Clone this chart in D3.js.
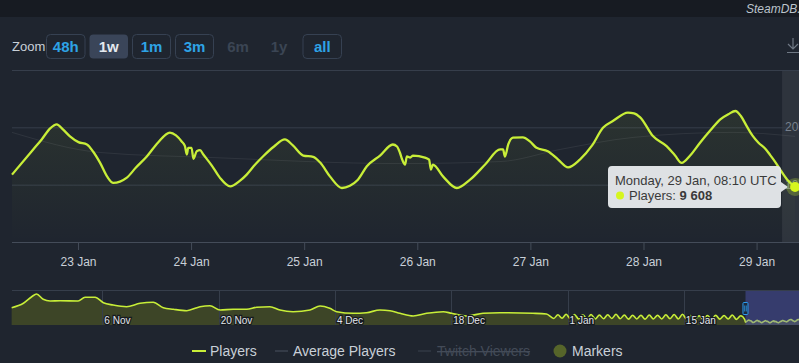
<!DOCTYPE html>
<html>
<head>
<meta charset="utf-8">
<script src="https://cdn.jsdelivr.net/npm/d3@7"></script>
<style>
  html, body { margin: 0; padding: 0; background: #1f252f; }
  svg { display: block; font-family: "Liberation Sans", Arial, sans-serif; }
</style>
</head>
<body>
<div id="chart"></div>
<script>
// Players, last week (hours since 22 Jan 2024 00:00 UTC)
const hours = [10, 14.5, 16.3, 18.1, 19.5, 20.8, 22.3, 24.1, 25.9, 27.2, 28.7, 30.2, 31.5, 32.9, 34.3, 36.3,
  38.6, 41.0, 43.5, 44.8, 46.0, 46.7, 47.1, 47.4, 48.1, 48.5, 49.2, 49.9, 50.6, 52.4, 54.1, 56.3, 58.4, 59.8,
  61.6, 63.3, 65.6, 67.9, 69.6, 71.8, 73.9, 75.4, 77.5, 80.0, 81.7, 83.4, 85.3, 88.1, 90.8, 91.7, 92.3, 92.8,
  93.4, 93.8, 94.5, 95.1, 97.6, 98.5, 98.9, 99.3, 101.5, 104.4, 107.2, 110.4, 113.6, 114.2, 114.6, 115.3,
  116.3, 118.4, 119.9, 121.3, 123.7, 125.9, 128.0, 130.5, 133.1, 135.4, 137.5, 140.7, 142.0, 143.3, 146.0,
  148.9, 150.7, 152.1, 153.9, 156.0, 158.2, 160.3, 162.0, 163.5, 164.7, 165.9, 167.1, 168.4, 169.8, 170.8,
  171.9, 173.0, 174.5, 176.17];
const players = [11750, 16140, 17890, 19820, 20520, 19640, 18420, 17420, 17010, 15790, 13800, 11400, 10300,
  10520, 11170, 12980, 14910, 17360, 19070, 18590, 17540, 16720, 15260, 16430, 16430, 14510, 15840, 16010,
  15260, 13330, 11230, 9700, 10700, 11750, 13510, 14960, 16660, 17890, 16840, 15080, 14860, 13860, 11400,
  9420, 9820, 10870, 13210, 15080, 17010, 16660, 15610, 14380, 13510, 14910, 14730, 15080, 14730, 14380,
  12630, 13510, 11400, 9420, 10870, 13510, 16140, 16140, 14910, 17010, 18190, 18240, 17540, 16430, 15840,
  14380, 13030, 14380, 16840, 19940, 21100, 22570, 22450, 21750, 18470, 16720, 15080, 13800, 15080, 17310,
  19470, 21400, 22280, 22850, 21930, 20220, 18590, 17310, 16310, 15260, 14030, 12630, 10870, 9608];

// Average players
const avgHours = [10, 28.7, 52.6, 92.3, 113.6, 126.3, 141.8, 163.0, 176.17];
const avgPlayers = [19120, 15610, 14730, 13680, 14030, 16140, 18240, 19120, 18420];

// Navigator history before the selected week
const historyDates = ["2023-10-26T02", "2023-10-27T12", "2023-10-28T12", "2023-10-29T02", "2023-10-29T21",
  "2023-10-30T17", "2023-10-31T22", "2023-11-03T02", "2023-11-03T22", "2023-11-05T03", "2023-11-06T03",
  "2023-11-07T07", "2023-11-08T22", "2023-11-10T13", "2023-11-12T03", "2023-11-13T08", "2023-11-14T13",
  "2023-11-16T04", "2023-11-17T18", "2023-11-18T23", "2023-11-20T04", "2023-11-21T18", "2023-11-23T09",
  "2023-11-24T14", "2023-11-26T04", "2023-11-27T09", "2023-11-28T23", "2023-12-01T00", "2023-12-02T05",
  "2023-12-03T09", "2023-12-04T05", "2023-12-06T05", "2023-12-07T19", "2023-12-09T10", "2023-12-10T15",
  "2023-12-11T20", "2023-12-13T10", "2023-12-15T01", "2023-12-17T01", "2023-12-18T01", "2023-12-19T20",
  "2023-12-21T20", "2023-12-23T20", "2023-12-27T20", "2023-12-29T11",
  "2023-12-30T08", "2023-12-30T20", "2023-12-31T08", "2023-12-31T20", "2024-01-01T08", "2024-01-01T20",
  "2024-01-02T08", "2024-01-02T20", "2024-01-03T08", "2024-01-03T20", "2024-01-04T08", "2024-01-04T20",
  "2024-01-05T08", "2024-01-05T20", "2024-01-06T08", "2024-01-06T20", "2024-01-07T08", "2024-01-07T20",
  "2024-01-08T08", "2024-01-08T20", "2024-01-09T08", "2024-01-09T20", "2024-01-10T08", "2024-01-10T20",
  "2024-01-11T08", "2024-01-11T20", "2024-01-12T08", "2024-01-12T20", "2024-01-13T08", "2024-01-13T20",
  "2024-01-14T08", "2024-01-14T20", "2024-01-15T08", "2024-01-15T20", "2024-01-16T08", "2024-01-16T20",
  "2024-01-17T08", "2024-01-17T20", "2024-01-18T08", "2024-01-18T20", "2024-01-19T08", "2024-01-19T20",
  "2024-01-20T08", "2024-01-20T20", "2024-01-21T08", "2024-01-21T20", "2024-01-22T08"];
const historyPlayers = [71200, 89400, 116500, 127700, 105800, 98800, 100100, 98800, 114100, 114100, 91800,
  82400, 75400, 89400, 93500, 71200, 64700, 58900, 75400, 79500, 61800, 64700, 64700, 72900, 75400, 61800,
  54800, 61800, 78200, 68800, 54800, 48200, 50700, 61800, 58900, 48200, 37100, 48200, 54800, 48200, 37100,
  48200, 50700, 48200, 45300,
  27000, 42000, 28000, 44000, 26000, 43000, 25000, 42000, 26000, 43000, 25000, 41000, 26000, 42000, 27000,
  44000, 26000, 41000, 24000, 40000, 25000, 40000, 24000, 41000, 25000, 40000, 25000, 42000, 26000, 43000,
  25000, 44000, 24000, 39000, 23000, 38000, 23000, 39000, 24000, 40000, 24000, 39000, 25000, 41000, 23000,
  38000, 22000];

const navTicks = ["2023-11-06", "2023-11-20", "2023-12-04", "2023-12-18", "2024-01-01", "2024-01-15"];
const yTicks = [10000, 20000, 30000];
const zoomButtons = ["48h", "1w", "1m", "3m", "6m", "1y", "all"];
const legendItems = ["Players", "Average Players", "Twitch Viewers", "Markers"];

const W = 799, H = 363;
const lineColor = "#c8ee38";
const gridColor = "#363e4b";
const textColor = "#c9d0d8";

const base = Date.UTC(2024, 0, 22);
const toDate = function (h) { return new Date(base + h * 3600e3); };
const parseHour = d3.utcParse("%Y-%m-%dT%H");
const parseDay = d3.utcParse("%Y-%m-%d");

const week = hours.map(function (h, i) { return { date: toDate(h), value: players[i] }; });
const avg = avgHours.map(function (h, i) { return { date: toDate(h), value: avgPlayers[i] }; });
const history = historyDates.map(function (d, i) { return { date: parseHour(d), value: historyPlayers[i] }; });
const navData = history.concat(week);

const svg = d3.select("#chart").append("svg").attr("width", W).attr("height", H);

// top strip + site label (cut at the right edge, as in the screenshot)
svg.append("rect").attr("width", W).attr("height", 17).attr("fill", "#171b22");
svg.append("text").attr("x", 746).attr("y", 12.5).text("SteamDB.info")
  .attr("fill", "#bcc4cc").style("font-size", "12px").style("font-style", "italic");

// zoom buttons
svg.append("text").attr("x", 12).attr("y", 51).text("Zoom")
  .attr("fill", textColor).style("font-size", "13px");
const btnX = [46.5, 89.5, 132.5, 175.5, 221, 262, 303];
const btnW = [38.5, 38.5, 38, 38, 34, 34, 38.5];
const btn = svg.append("g").selectAll("g").data(zoomButtons).enter().append("g");
btn.append("rect")
  .attr("x", function (d, i) { return btnX[i]; })
  .attr("y", 34.5).attr("width", function (d, i) { return btnW[i]; }).attr("height", 24).attr("rx", 4)
  .attr("fill", function (d) { return d === "1w" ? "#3a4559" : "none"; })
  .attr("stroke", function (d) { return (d === "6m" || d === "1y" || d === "1w") ? "none" : "#364152"; });
btn.append("text")
  .attr("x", function (d, i) { return btnX[i] + btnW[i] / 2; })
  .attr("y", 52).attr("text-anchor", "middle").text(function (d) { return d; })
  .style("font-size", "15px").style("font-weight", "700")
  .attr("fill", function (d) {
    if (d === "1w") return "#e4e9ef";
    if (d === "6m" || d === "1y") return "#3b4554";
    return "#2ea3e6";
  });

// download icon
svg.append("path")
  .attr("d", "M793,38V49M788,44L793,49L798,44M787,52.5H799")
  .attr("fill", "none").attr("stroke", "#6f7884").attr("stroke-width", 1.2);

// main chart
const x = d3.scaleUtc().domain([toDate(10), toDate(177)]).range([12, 799]);
const y = d3.scaleLinear().domain([0, 30000]).range([242, 70]);

// crosshair band at the hovered point
const hover = week[week.length - 1];
svg.append("rect").attr("x", x(hover.date) - 13).attr("y", 70).attr("width", 26).attr("height", 172)
  .attr("fill", "rgba(255,255,255,0.07)");

svg.append("g").selectAll("line").data(yTicks).enter().append("line")
  .attr("x1", 12).attr("x2", W).attr("y1", function (d) { return y(d) + 0.5; }).attr("y2", function (d) { return y(d) + 0.5; })
  .attr("stroke", gridColor);
svg.append("g").selectAll("text").data(yTicks.slice(0, 2)).enter().append("text")
  .attr("x", 785).attr("y", function (d) { return y(d) + 4; })
  .text(function (d) { return d / 1000 + "k"; })
  .attr("fill", "#77808c").style("font-size", "12px");

// area gradient under players
const grad = svg.append("defs").append("linearGradient").attr("id", "pg")
  .attr("x1", 0).attr("y1", 0).attr("x2", 0).attr("y2", 1);
grad.append("stop").attr("offset", "0%").attr("stop-color", lineColor).attr("stop-opacity", 0.07);
grad.append("stop").attr("offset", "100%").attr("stop-color", lineColor).attr("stop-opacity", 0);

const main = svg.append("g");
main.append("path").datum(week)
  .attr("d", d3.area().x(function (d) { return x(d.date); }).y0(y(0)).y1(function (d) { return y(d.value); })
    .curve(d3.curveMonotoneX))
  .attr("fill", "url(#pg)");
main.append("path").datum(avg)
  .attr("d", d3.line().x(function (d) { return x(d.date); }).y(function (d) { return y(d.value); })
    .curve(d3.curveMonotoneX))
  .attr("fill", "none").attr("stroke", "rgba(255,255,255,0.07)").attr("stroke-width", 1);
main.append("path").datum(week)
  .attr("d", d3.line().x(function (d) { return x(d.date); }).y(function (d) { return y(d.value); })
    .curve(d3.curveMonotoneX))
  .attr("fill", "none").attr("stroke", lineColor).attr("stroke-width", 2.3).attr("stroke-linejoin", "round");

// x axis
const xAxis = svg.append("g").attr("transform", "translate(0,242)")
  .call(d3.axisBottom(x).ticks(d3.utcDay.every(1)).tickFormat(d3.utcFormat("%-d %b")).tickSize(8).tickSizeOuter(0));
xAxis.select(".domain").attr("stroke", "#444c59").attr("d", "M12,0.5H" + W);
xAxis.selectAll(".tick line").attr("stroke", "#444c59");
xAxis.selectAll(".tick text").attr("fill", textColor).attr("dy", 0).attr("y", 24)
  .style("font-size", "12px").style("font-family", "Liberation Sans, Arial, sans-serif");

// hovered point + tooltip
svg.append("circle").attr("cx", x(hover.date)).attr("cy", y(hover.value)).attr("r", 9)
  .attr("fill", lineColor).attr("opacity", 0.25);
svg.append("circle").attr("cx", x(hover.date)).attr("cy", y(hover.value)).attr("r", 5)
  .attr("fill", "#d6f61e");

const tip = svg.append("g");
tip.append("path")
  .attr("d", "M612,166H777Q781,166 781,170V182L788,187L781,192V204Q781,208 777,208H612Q608,208 608,204V170Q608,166 612,166Z")
  .attr("fill", "#e4e7ea").attr("opacity", 0.97);
tip.append("text").attr("x", 615).attr("y", 185).text(d3.utcFormat("%A, %-d %b, %H:%M UTC")(hover.date))
  .attr("fill", "#3a3a3a").style("font-size", "13px");
tip.append("circle").attr("cx", 620).attr("cy", 195.5).attr("r", 4).attr("fill", "#d6f61e");
const tt = tip.append("text").attr("x", 629).attr("y", 200).attr("fill", "#3a3a3a").style("font-size", "13px");
tt.append("tspan").text("Players: ");
tt.append("tspan").style("font-weight", "700").text(d3.format(",")(hover.value).replace(/,/g, " "));

// navigator
const nx = d3.scaleUtc().domain([parseHour("2023-10-26T03"), toDate(176.17)]).range([12, 803]);
const ny = d3.scaleLinear().domain([0, 140000]).range([325, 291]);
const nav = svg.append("g");
nav.append("line").attr("x1", 12).attr("x2", W).attr("y1", 290.5).attr("y2", 290.5).attr("stroke", gridColor);
nav.append("path").datum(navData)
  .attr("d", d3.area().x(function (d) { return nx(d.date); }).y0(325).y1(function (d) { return ny(d.value); })
    .curve(d3.curveMonotoneX))
  .attr("fill", "#3d4527");
nav.selectAll(".vg").data(navTicks).enter().append("line")
  .attr("x1", function (d) { return Math.round(nx(parseDay(d))) + 0.5; })
  .attr("x2", function (d) { return Math.round(nx(parseDay(d))) + 0.5; })
  .attr("y1", 291).attr("y2", 325).attr("stroke", gridColor);
nav.append("path").datum(navData)
  .attr("d", d3.line().x(function (d) { return nx(d.date); }).y(function (d) { return ny(d.value); })
    .curve(d3.curveMonotoneX))
  .attr("fill", "none").attr("stroke", lineColor).attr("stroke-width", 1.6);
nav.selectAll(".nl").data(navTicks).enter().append("text")
  .attr("x", function (d) { return nx(parseDay(d)) + 2; }).attr("y", 324)
  .text(function (d) { return d3.utcFormat("%-d %b")(parseDay(d)); })
  .attr("fill", "#e2e6ea").attr("stroke", "#161a20").attr("stroke-width", 2.5)
  .attr("paint-order", "stroke").style("font-size", "10px");

// selected range
const selX = x.domain()[0];
nav.append("rect").attr("x", nx(selX)).attr("y", 291).attr("width", W - nx(selX)).attr("height", 34)
  .attr("fill", "rgba(92,100,210,0.38)");
nav.append("rect").attr("x", nx(selX) - 2.5).attr("y", 302.5).attr("width", 5).attr("height", 12).attr("rx", 1)
  .attr("fill", "#1d2a3c").attr("stroke", "#2c9cf0");
nav.append("path").attr("d", "M" + (nx(selX) - 0.8) + ",305.5V311.5M" + (nx(selX) + 0.8) + ",305.5V311.5")
  .attr("stroke", "#2c9cf0").attr("stroke-width", 0.8);

// legend
const lg = svg.append("g").style("font-size", "14px");
const lgX = [192, 275, 418, 560];
lg.append("line").attr("x1", lgX[0]).attr("x2", lgX[0] + 14).attr("y1", 351).attr("y2", 351)
  .attr("stroke", lineColor).attr("stroke-width", 2);
lg.append("line").attr("x1", lgX[1]).attr("x2", lgX[1] + 13).attr("y1", 351).attr("y2", 351)
  .attr("stroke", "#4a5361").attr("stroke-width", 1);
lg.append("line").attr("x1", lgX[2]).attr("x2", lgX[2] + 13).attr("y1", 351).attr("y2", 351)
  .attr("stroke", "#3a424f").attr("stroke-width", 1);
lg.append("circle").attr("cx", lgX[3]).attr("cy", 351).attr("r", 6.5).attr("fill", "#56652a");
lg.selectAll("text").data(legendItems).enter().append("text")
  .attr("x", function (d, i) { return [210, 293, 437, 572][i]; }).attr("y", 356)
  .text(function (d) { return d; })
  .attr("fill", function (d) { return d === "Twitch Viewers" ? "#434b58" : textColor; })
  .style("text-decoration", function (d) { return d === "Twitch Viewers" ? "line-through" : null; });
</script>
</body>
</html>
